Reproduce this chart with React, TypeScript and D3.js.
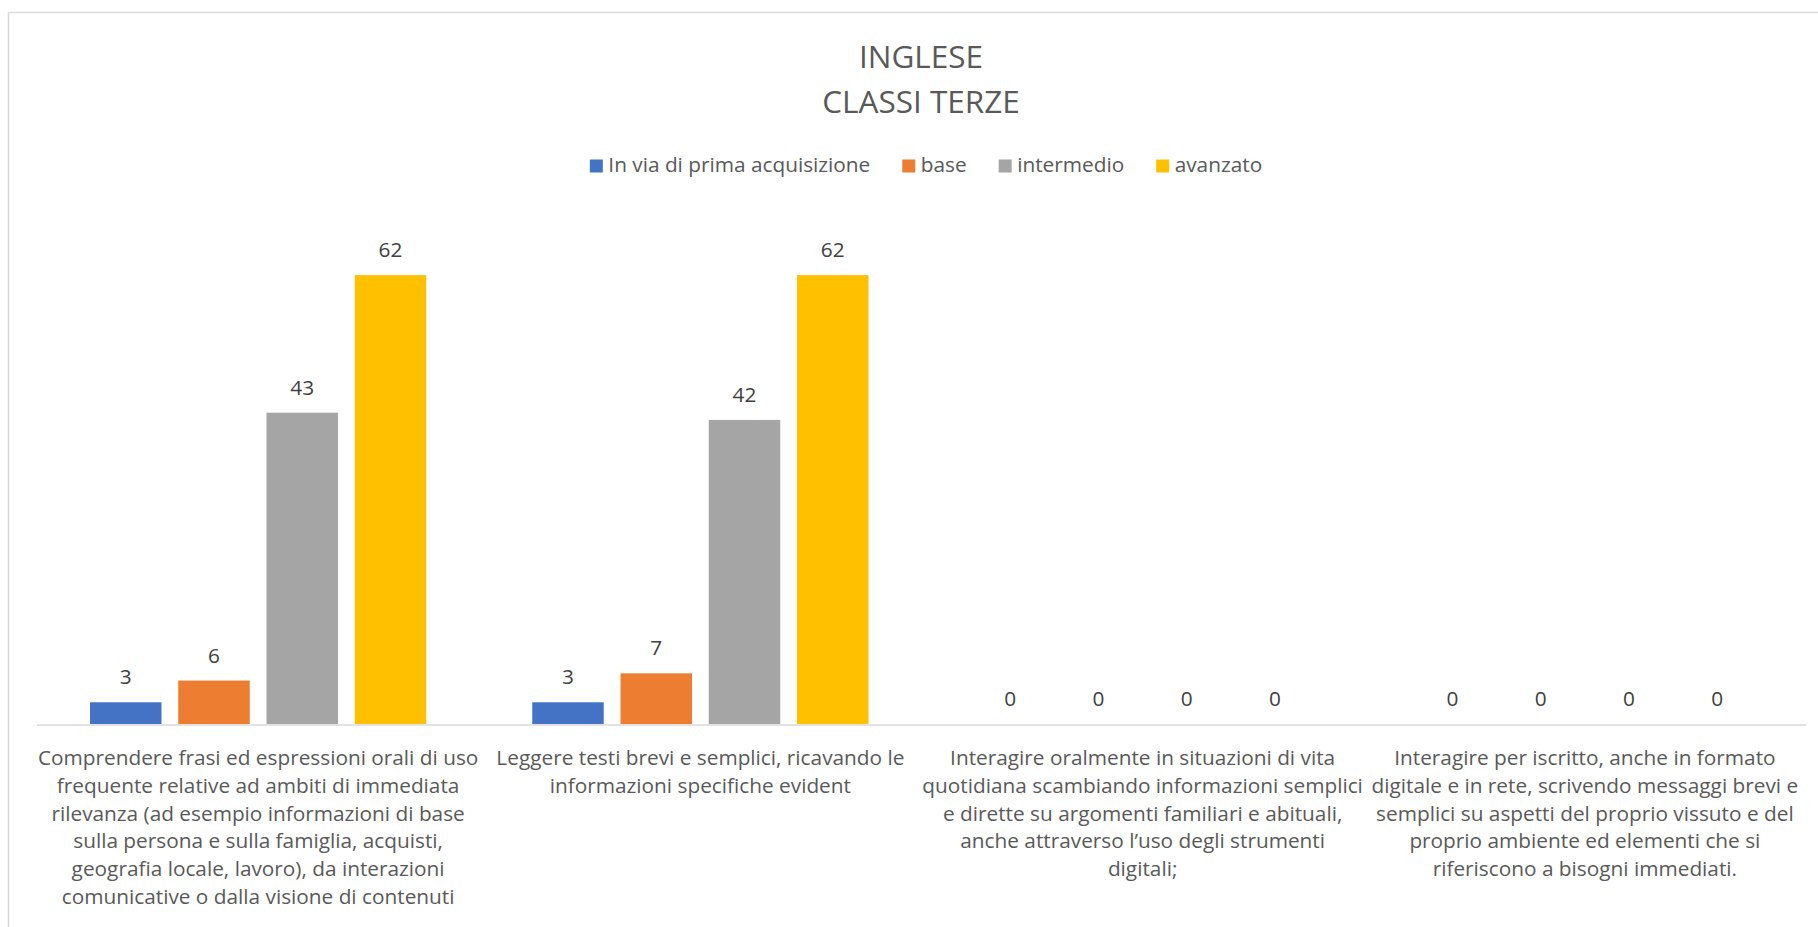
import React from "react";
import * as d3 from "d3";

const categories: string[][] = [
  [
    "Comprendere frasi ed espressioni orali di uso",
    "frequente relative ad ambiti di immediata",
    "rilevanza (ad esempio informazioni di base",
    "sulla persona e sulla famiglia, acquisti,",
    "geografia locale, lavoro), da interazioni",
    "comunicative o dalla visione di contenuti",
  ],
  ["Leggere testi brevi e semplici, ricavando le", "informazioni specifiche evident"],
  [
    "Interagire oralmente in situazioni di vita",
    "quotidiana scambiando informazioni semplici",
    "e dirette su argomenti familiari e abituali,",
    "anche attraverso l’uso degli strumenti",
    "digitali;",
  ],
  [
    "Interagire per iscritto, anche in formato",
    "digitale e in rete, scrivendo messaggi brevi e",
    "semplici su aspetti del proprio vissuto e del",
    "proprio ambiente ed elementi che si",
    "riferiscono a bisogni immediati.",
  ],
];

const seriesNames = ["In via di prima acquisizione", "base", "intermedio", "avanzato"];
const seriesColors = ["#4472C4", "#ED7D31", "#A5A5A5", "#FFC000"];

const primaAcquisizione = [3, 3, 0, 0];
const base = [6, 7, 0, 0];
const intermedio = [43, 42, 0, 0];
const avanzato = [62, 62, 0, 0];
const seriesValues = [primaAcquisizione, base, intermedio, avanzato];

const titleLines = ["INGLESE", "CLASSI TERZE"];

const FONT = "'Open Sans', sans-serif";
const TEXT = "#595959";
const FS = 20.8;

export default function App() {
  const W = 1818;
  const H = 927;
  const plotLeft = 37;
  const plotRight = 1806;
  const baseY = 724;
  const topY = 217.2;

  const x0 = d3
    .scaleBand<number>()
    .domain(categories.map((_, i) => i))
    .range([plotLeft, plotRight])
    .paddingInner(0)
    .paddingOuter(0);
  const cw = x0.bandwidth();
  const groupMargin = 53;
  const x1 = d3
    .scaleBand<number>()
    .domain(seriesNames.map((_, i) => i))
    .range([groupMargin, cw - groupMargin])
    .paddingInner(0.19)
    .paddingOuter(0);
  const y = d3.scaleLinear().domain([0, 70]).range([baseY, topY]);

  const measure = (t: string, size: number) => {
    const c = document.createElement("canvas").getContext("2d")!;
    c.font = `${size}px 'Open Sans'`;
    return c.measureText(t).width;
  };
  const swW = 13;
  const swGap = 5.5;
  const itemGap = 32;
  const widths = seriesNames.map((n) => measure(n, FS));
  const total =
    widths.reduce((a, b) => a + b, 0) + seriesNames.length * (swW + swGap) + itemGap * (seriesNames.length - 1);
  let lx = 926 - total / 2;
  const legendItems = seriesNames.map((n, i) => {
    const item = { x: lx, name: n, color: seriesColors[i] };
    lx += swW + swGap + widths[i] + itemGap;
    return item;
  });

  return (
    <svg
      width={W}
      height={H}
      style={{ position: "fixed", left: 0, top: 0, display: "block", background: "#fff" }}
      fontFamily={FONT}
    >
      <rect x={8.5} y={12.5} width={1830} height={1000} fill="#fff" stroke="#d9d9d9" strokeWidth={1.5} />
      {titleLines.map((t, i) => (
        <text key={t} x={921} y={68 + i * 45} textAnchor="middle" fontSize={31.5} fill={TEXT}>
          {t}
        </text>
      ))}
      {legendItems.map((it) => (
        <g key={it.name}>
          <rect x={it.x} y={159.5} width={swW} height={13} fill={it.color} />
          <text x={it.x + swW + swGap} y={171.5} fontSize={FS} fill={TEXT}>
            {it.name}
          </text>
        </g>
      ))}
      {categories.map((_, ci) =>
        seriesValues.map((vals, si) => {
          const bx = (x0(ci) as number) + (x1(si) as number);
          const v = vals[ci];
          return (
            <g key={`${ci}-${si}`}>
              {v > 0 && (
                <rect x={bx} y={y(v)} width={x1.bandwidth()} height={baseY - y(v)} fill={seriesColors[si]} />
              )}
              <text x={bx + x1.bandwidth() / 2} y={y(v) - 18} textAnchor="middle" fontSize={FS} fill="#404040">
                {v}
              </text>
            </g>
          );
        })
      )}
      <line x1={plotLeft} x2={plotRight} y1={baseY + 1} y2={baseY + 1} stroke="#d9d9d9" strokeWidth={1.5} />
      {categories.map((lines, ci) => (
        <text
          key={ci}
          x={(x0(ci) as number) + cw / 2}
          y={765}
          textAnchor="middle"
          fontSize={FS}
          fill={TEXT}
        >
          {lines.map((l, li) => (
            <tspan key={li} x={(x0(ci) as number) + cw / 2} y={765 + li * 27.8}>
              {l}
            </tspan>
          ))}
        </text>
      ))}
    </svg>
  );
}
